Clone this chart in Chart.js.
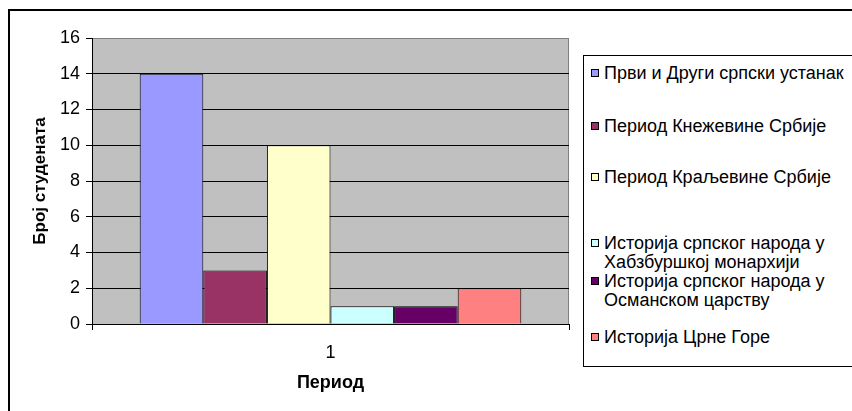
<!DOCTYPE html>
<html>
<head>
<meta charset="utf-8">
<script src="https://cdn.jsdelivr.net/npm/chart.js@4/dist/chart.umd.min.js"></script>
<style>
	html, body { margin: 0; padding: 0; background: #fff; }
	body { width: 852px; height: 411px; position: relative; overflow: hidden; font-family: "Liberation Sans", Arial, sans-serif; }
	#frame { position: absolute; left: 8px; top: 9px; width: 1000px; height: 600px; border: 2px solid #000; box-sizing: border-box; }
	#chart { position: absolute; left: 0; top: 0; }
	#legend { position: absolute; left: 583px; top: 55px; width: 400px; height: 312px; border: 1px solid #000; background: #fff; box-sizing: border-box; }
	.item { position: absolute; left: 6px; font-size: 18px; line-height: 19px; color: #000; }
	.item .box { position: absolute; left: 1px; top: 5px; width: 6px; height: 6px; border: 1px solid #000; }
	.item .txt { position: absolute; left: 14px; top: 0; width: 250px; }
</style>
</head>
<body>
<div id="frame"></div>
<canvas id="chart" width="852" height="411"></canvas>
<div id="legend"></div>
<script>
// ── data ──
const categories   = ['1'];
const seriesNames  = [
	'Први и Други српски устанак',
	'Период Кнежевине Србије',
	'Период Краљевине Србије',
	'Историја српског народа у Хабзбуршкој монархији',
	'Историја српског народа у Османском царству',
	'Историја Црне Горе',
];
const seriesValues = [14, 3, 10, 1, 1, 2];
const seriesColors = ['#9999FF', '#993366', '#FFFFCC', '#CCFFFF', '#660066', '#FF8080'];
const yTicks       = [0, 2, 4, 6, 8, 10, 12, 14, 16];

// top offsets of the legend rows (layout only)
const legendTops = [8, 61, 112, 178, 216, 272];

const FONT = '"Liberation Sans", Arial, sans-serif';

// gray plot area behind the bars
const plotBg = {
	id: 'plotBg',
	beforeDraw(chart) {
		const { ctx, chartArea: a } = chart;
		ctx.save();
		ctx.fillStyle = '#C0C0C0';
		ctx.fillRect(a.left, a.top, a.right - a.left, a.bottom - a.top);
		ctx.strokeStyle = '#808080';
		ctx.lineWidth = 1;
		ctx.beginPath();
		ctx.moveTo(Math.round(a.left) + 0.5, Math.round(a.top) + 0.5);
		ctx.lineTo(Math.round(a.right) - 0.5, Math.round(a.top) + 0.5);
		ctx.lineTo(Math.round(a.right) - 0.5, Math.round(a.bottom));
		ctx.stroke();
		ctx.restore();
	}
};

const datasets = seriesNames.map((name, i) => ({
	label: name,
	data: [seriesValues[i]],
	backgroundColor: seriesColors[i],
	borderColor: '#000',
	borderWidth: 1,
	barPercentage: 1.0,
	categoryPercentage: 0.8,
}));

const chart = new Chart(document.getElementById('chart'), {
	type: 'bar',
	data: { labels: categories, datasets },
	plugins: [plotBg],
	options: {
		responsive: false,
		devicePixelRatio: 1,
		animation: false,
		layout: { padding: { left: 0, top: 38, right: 283, bottom: 0 } },
		plugins: {
			legend: { display: false },
			tooltip: { enabled: false },
		},
		scales: {
			x: {
				afterFit(s) { s.height = 87; },
				grid: { display: true, drawOnChartArea: false, drawTicks: true, tickLength: 6, color: '#000', offset: true },
				border: { display: true, color: '#000', width: 1 },
				ticks: { color: '#000', padding: 12, font: { family: FONT, size: 18 } },
				title: {
					display: true,
					text: 'Период',
					color: '#000',
					font: { family: FONT, size: 18, weight: 'bold' },
					padding: { top: 0, bottom: 17 },
				},
			},
			y: {
				min: 0,
				max: 16,
				afterFit(s) { s.width = 92; },
				afterBuildTicks(s) { s.ticks = yTicks.map(v => ({ value: v })); },
				grid: {
					color: c => (c.tick && c.tick.value === 16 ? '#808080' : '#000'),
					lineWidth: 1,
					tickLength: 6,
					tickColor: '#000',
				},
				border: { display: true, color: '#000', width: 1 },
				ticks: { color: '#000', padding: 6, font: { family: FONT, size: 18 } },
				title: {
					display: true,
					text: 'Број студената',
					color: '#000',
					font: { family: FONT, size: 17, weight: 'bold' },
					padding: { top: 30, bottom: 0 },
				},
			},
		},
	},
});

// ── legend as HTML, built from the datasets ──
const legendEl = document.getElementById('legend');
chart.data.datasets.forEach((ds, i) => {
	const item = document.createElement('div');
	item.className = 'item';
	item.style.top = legendTops[i] + 'px';
	item.innerHTML = `<span class="box" style="background:${ds.backgroundColor}"></span><span class="txt">${ds.label}</span>`;
	legendEl.appendChild(item);
});
</script>
</body>
</html>
